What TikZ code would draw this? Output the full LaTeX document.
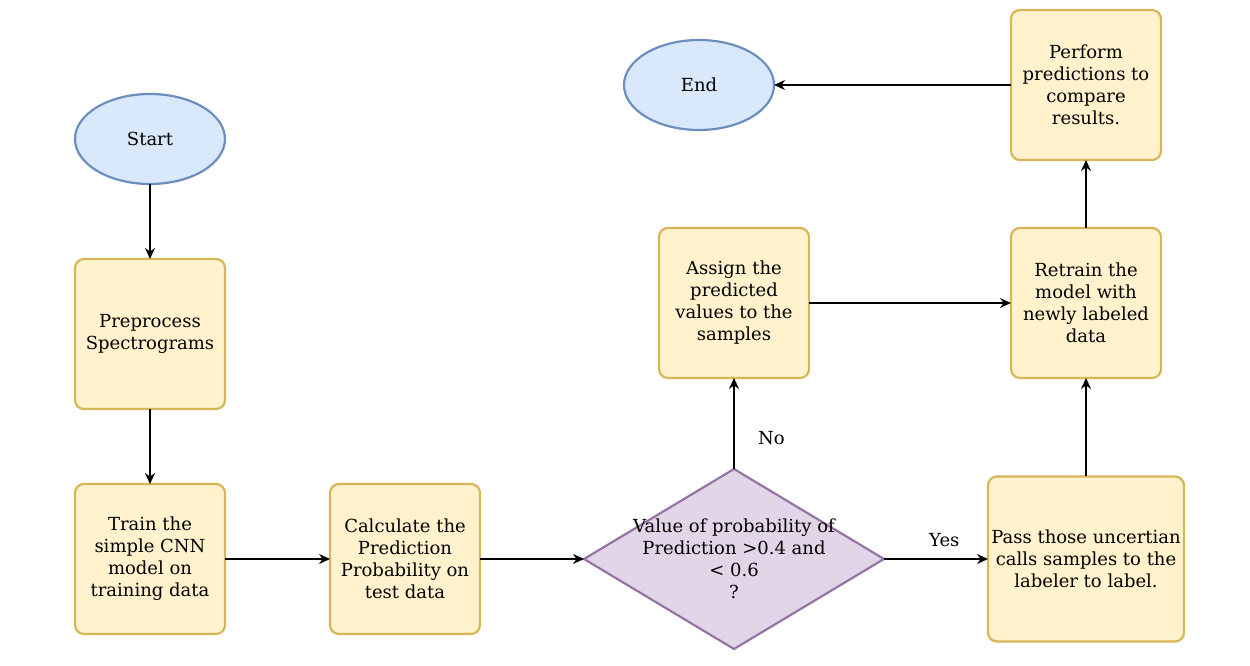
\documentclass[tikz,border=0pt]{standalone}
\usepackage{fontspec}
\setmainfont{DejaVu Serif}
\usetikzlibrary{positioning, arrows.meta, shapes.geometric}

\definecolor{procfill}{HTML}{FFF2CC}
\definecolor{procdraw}{HTML}{D6B656}
\definecolor{termfill}{HTML}{DAE8FC}
\definecolor{termdraw}{HTML}{6C8EBF}
\definecolor{decfill}{HTML}{E1D5E7}
\definecolor{decdraw}{HTML}{9673A6}
\newcommand{\flowfont}{\fontsize{18}{22}\selectfont}

\begin{document}
\begin{tikzpicture}[
    x=1pt, y=1pt,
    terminal/.style={
        ellipse,
        draw=termdraw,
        fill=termfill,
        line width=2.2pt,
        outer sep=0pt,
        minimum width=150pt,
        minimum height=90pt,
        font=\flowfont
    },
    process/.style={
        rectangle,
        rounded corners=9pt,
        draw=procdraw,
        fill=procfill,
        line width=2.2pt,
        outer sep=0pt,
        minimum width=150pt,
        minimum height=150pt,
        font=\flowfont,
        align=center
    },
    decision/.style={
        diamond,
        draw=decdraw,
        fill=decfill,
        line width=2.2pt,
        outer sep=0pt,
        minimum width=300pt,
        minimum height=180pt,
        inner sep=0pt
    },
    flowarr/.style={-{Stealth[length=11pt, width=10pt]}, line width=1.4pt}
]
\useasboundingbox (0,0) rectangle (1250,666);

% Start
\node[terminal] (start) at (150,527) {Start};

% Left column
\node[process, below=75pt of start] (prep) {Preprocess\\Spectrograms};
\node[process, below=75pt of prep] (train) {Train the\\simple CNN\\model on\\training data};

% Bottom row
\node[process, right=105pt of train] (calc) {Calculate the\\Prediction\\Probability on\\test data};
\node[decision, right=104pt of calc] (check) {};
\node[font=\flowfont, align=center] (checktext) at (check) {Value of probability of\\Prediction >0.4 and\\< 0.6\\?};
\node[process, minimum width=196pt, minimum height=165pt, right=104pt of check] (label)
{Pass those uncertian\\calls samples to the\\labeler to label.};

% Upper row
\node[process, above=91pt of check] (assign) {Assign the\\predicted\\values to the\\samples};
\node[process, above=98.5pt of label] (retrain) {Retrain the\\model with\\newly labeled\\data};
\node[process, above=68pt of retrain] (perform) {Perform\\predictions to\\compare\\results.};

% End
\node[terminal, left=237pt of perform] (end) {End};

% Arrows
\draw[flowarr] (start) -- (prep);
\draw[flowarr] (prep) -- (train);
\draw[flowarr] (train) -- (calc);
\draw[flowarr] (calc) -- (check);
\draw[flowarr] (check) -- node[pos=0.58, above=8pt, font=\flowfont] {Yes} (label);
\draw[flowarr] (check) -- node[pos=0.34, right=20pt, font=\flowfont] {No} (assign);
\draw[flowarr] (assign) -- (retrain);
\draw[flowarr] (label) -- (retrain);
\draw[flowarr] (retrain) -- (perform);
\draw[flowarr] (perform) -- (end);
\end{tikzpicture}
\end{document}
